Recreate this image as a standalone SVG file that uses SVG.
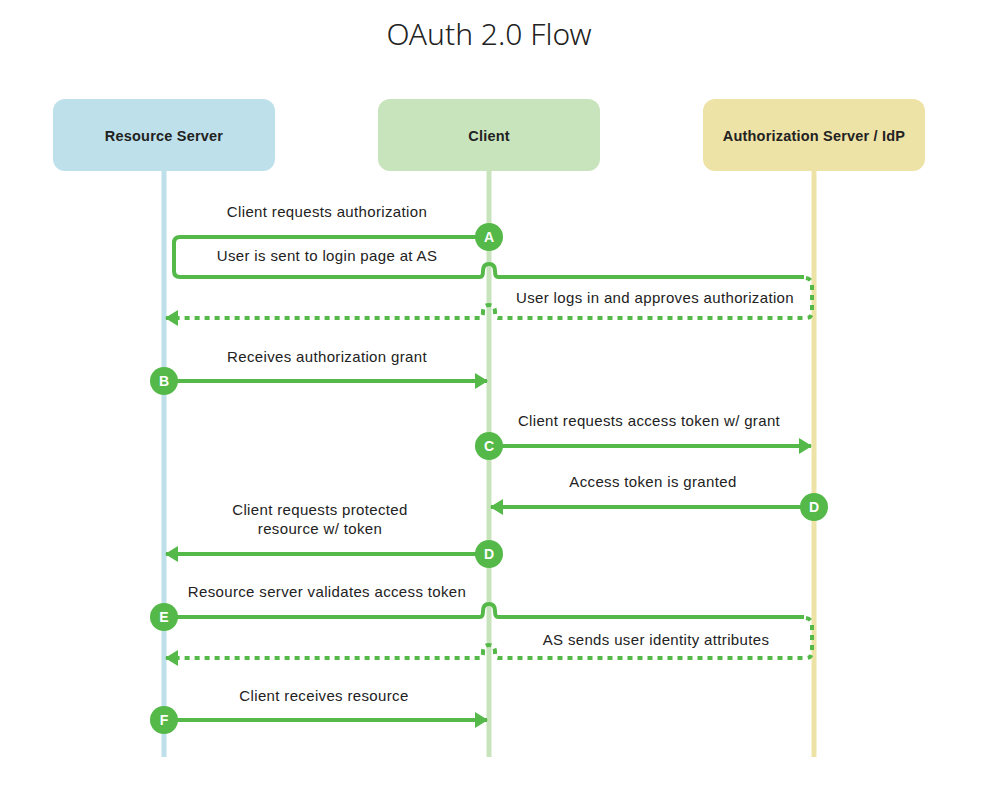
<svg xmlns="http://www.w3.org/2000/svg" width="989" height="785" viewBox="0 0 989 785">
<defs>
<style>
.title{font-family:"Noto Sans","Liberation Sans",sans-serif;font-size:30px;font-weight:300;fill:#222;text-anchor:middle}
.hdr{font-family:"Liberation Sans",Arial,sans-serif;font-size:14.5px;font-weight:bold;fill:#222;text-anchor:middle;letter-spacing:0.2px}
.lbl{font-family:"Liberation Sans",Arial,sans-serif;font-size:15px;fill:#222;text-anchor:middle;letter-spacing:0.35px}
.step{font-family:"Liberation Sans",Arial,sans-serif;font-size:14px;font-weight:bold;fill:#fff;text-anchor:middle}
.ln{fill:none;stroke:#54b948;stroke-width:4}
.dot{fill:none;stroke:#54b948;stroke-width:4;stroke-dasharray:5 5}
.badge{fill:#54b948}
</style>
<marker id="ah" markerUnits="userSpaceOnUse" markerWidth="13" markerHeight="16" refX="12" refY="8" orient="auto" viewBox="0 0 13 16">
<path d="M0,0 L13,8 L0,16 z" fill="#54b948"/>
</marker>
</defs>
<rect width="989" height="785" fill="#fff"/>
<text class="title" x="489" y="45">OAuth 2.0 Flow</text>

<g id="resource-server">
<rect x="53" y="99" width="222" height="72" rx="12" fill="#bde0ea"/>
<rect x="161.5" y="171" width="5" height="586" fill="#bde0ea"/>
<text class="hdr" x="164" y="141">Resource Server</text>
</g>
<g id="client">
<rect x="378" y="99" width="222" height="72" rx="12" fill="#c8e4bd"/>
<rect x="486.5" y="171" width="5" height="586" fill="#c8e4bd"/>
<text class="hdr" x="489" y="141">Client</text>
</g>
<g id="auth-server">
<rect x="703" y="99" width="222" height="72" rx="12" fill="#eee3a6"/>
<rect x="811.5" y="171" width="5" height="586" fill="#eee3a6"/>
<text class="hdr" x="814" y="141">Authorization Server / IdP</text>
</g>

<g id="connectors">
<path class="ln" d="M489,237 H180 Q174,237 174,243 V271 Q174,277 180,277 H480 Q483,277 483,271 Q483,264 489,264 Q495,264 495,271 Q495,277 498,277 H804"/>
<path class="dot" d="M806,278 Q812,279 812,285 V312 Q812,318 806,318 H498 Q495,318 495,312 Q495,305 489,305 Q483,305 483,312 Q483,318 480,318 H166" marker-end="url(#ah)"/>
<path class="ln" d="M164,381 H487" marker-end="url(#ah)"/>
<path class="ln" d="M489,446 H811" marker-end="url(#ah)"/>
<path class="ln" d="M814,507 H491" marker-end="url(#ah)"/>
<path class="ln" d="M489,554 H166" marker-end="url(#ah)"/>
<path class="ln" d="M164,617 H480 Q483,617 483,611 Q483,604 489,604 Q495,604 495,611 Q495,617 498,617 H804"/>
<path class="dot" d="M806,618 Q812,619 812,625 V652 Q812,658 806,658 H498 Q495,658 495,652 Q495,645 489,645 Q483,645 483,652 Q483,658 480,658 H166" marker-end="url(#ah)"/>
<path class="ln" d="M164,720 H487" marker-end="url(#ah)"/>
</g>

<g id="labels">
<text class="lbl" x="327" y="217">Client requests authorization</text>
<text class="lbl" x="327" y="261">User is sent to login page at AS</text>
<text class="lbl" x="655" y="303">User logs in and approves authorization</text>
<text class="lbl" x="327" y="362">Receives authorization grant</text>
<text class="lbl" x="649" y="426">Client requests access token w/ grant</text>
<text class="lbl" x="653" y="487">Access token is granted</text>
<text class="lbl" x="320" y="515">Client requests protected</text>
<text class="lbl" x="320" y="534">resource w/ token</text>
<text class="lbl" x="327" y="597">Resource server validates access token</text>
<text class="lbl" x="656" y="645">AS sends user identity attributes</text>
<text class="lbl" x="324" y="701">Client receives resource</text>
</g>

<g id="badge-A"><circle class="badge" cx="489" cy="237" r="14"/><text class="step" x="489" y="242">A</text></g>
<g id="badge-B"><circle class="badge" cx="164" cy="381" r="14"/><text class="step" x="164" y="386">B</text></g>
<g id="badge-C"><circle class="badge" cx="489" cy="446" r="14"/><text class="step" x="489" y="451">C</text></g>
<g id="badge-D1"><circle class="badge" cx="814" cy="507" r="14"/><text class="step" x="814" y="512">D</text></g>
<g id="badge-D2"><circle class="badge" cx="489" cy="554" r="14"/><text class="step" x="489" y="559">D</text></g>
<g id="badge-E"><circle class="badge" cx="164" cy="617" r="14"/><text class="step" x="164" y="622">E</text></g>
<g id="badge-F"><circle class="badge" cx="164" cy="720" r="14"/><text class="step" x="164" y="725">F</text></g>
</svg>
